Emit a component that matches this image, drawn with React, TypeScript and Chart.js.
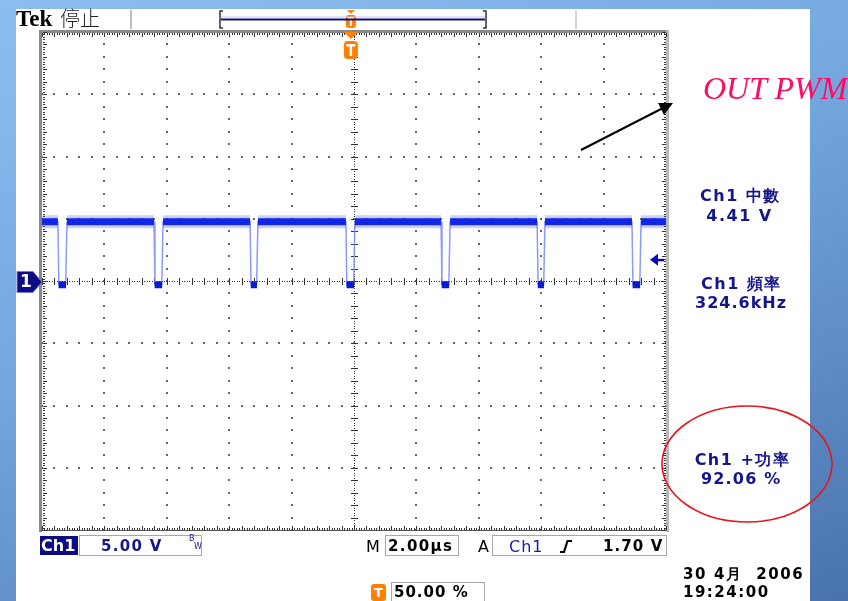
import React, { useEffect, useRef } from "react";
import { Chart, registerables } from "chart.js";
Chart.register(...registerables);

// ---- data (µs, V) ----
const timeDivs = [-10, -8, -6, -4, -2, 0, 2, 4, 6, 8, 10]; // 2.00 µs/div
const voltDivs = [-20, -15, -10, -5, 0, 5, 10, 15, 20]; // 5.00 V/div
const fallTimes = [-9.49, -6.41, -3.33, -0.26, 2.79, 5.87, 8.91];
const riseTimes = [-9.2, -6.12, -3.08, 0.03, 3.08, 6.12, 9.2];
const highLevel = 4.75;
const lowLevel = -0.3;
const triggerLevel = 1.7;
const triggerTime = -0.1;

const FONT = '"DejaVu Sans", Verdana, sans-serif';
const NAVY = "#16168c";
const ORANGE = "#ff7f00";

type P = { x: number; y: number | null };

function buildEdges(): P[] {
  const pts: P[] = [{ x: timeDivs[0], y: highLevel }];
  fallTimes.forEach((f, i) => {
    const r = riseTimes[i];
    pts.push({ x: f, y: highLevel }, { x: f + 0.03, y: lowLevel }, { x: r - 0.04, y: lowLevel }, { x: r, y: highLevel });
  });
  pts.push({ x: timeDivs[timeDivs.length - 1], y: highLevel });
  return pts;
}
function buildHigh(): P[] {
  const pts: P[] = [];
  let start = timeDivs[0];
  fallTimes.forEach((f, i) => {
    pts.push({ x: start, y: highLevel }, { x: f, y: highLevel }, { x: f + 0.01, y: null });
    start = riseTimes[i];
  });
  pts.push({ x: start, y: highLevel }, { x: timeDivs[timeDivs.length - 1], y: highLevel });
  return pts;
}
function buildLow(): P[] {
  const pts: P[] = [];
  fallTimes.forEach((f, i) => {
    const r = riseTimes[i];
    pts.push({ x: f + 0.02, y: lowLevel }, { x: r - 0.03, y: lowLevel }, { x: r, y: null });
  });
  return pts;
}

function roundRect(ctx: CanvasRenderingContext2D, x: number, y: number, w: number, h: number, r: number) {
  ctx.beginPath();
  ctx.moveTo(x + r, y);
  ctx.lineTo(x + w - r, y);
  ctx.quadraticCurveTo(x + w, y, x + w, y + r);
  ctx.lineTo(x + w, y + h - r);
  ctx.quadraticCurveTo(x + w, y + h, x + w - r, y + h);
  ctx.lineTo(x + r, y + h);
  ctx.quadraticCurveTo(x, y + h, x, y + h - r);
  ctx.lineTo(x, y + r);
  ctx.quadraticCurveTo(x, y, x + r, y);
  ctx.closePath();
}

const scopePlugin = {
  id: "scope",
  beforeDatasetsDraw(chart: any) {
    const { ctx, chartArea: a, scales } = chart;
    const xs = scales.x, ys = scales.y;
    const xStep = (timeDivs[1] - timeDivs[0]) / 5;
    const yStep = (voltDivs[1] - voltDivs[0]) / 5;
    const x0 = timeDivs[0], x1 = timeDivs[timeDivs.length - 1];
    const y0 = voltDivs[0], y1 = voltDivs[voltDivs.length - 1];
    ctx.save();
    // grid dots
    ctx.fillStyle = "#666";
    timeDivs.slice(1, -1).forEach((tv) => {
      if (tv === 0) return;
      const px = Math.round(xs.getPixelForValue(tv));
      for (let v = y0; v <= y1 + 1e-6; v += yStep) {
        const py = Math.round(ys.getPixelForValue(v));
        ctx.fillRect(px - 1, py - 1, 2, 2);
      }
    });
    voltDivs.slice(1, -1).forEach((vv) => {
      if (vv === 0) return;
      const py = Math.round(ys.getPixelForValue(vv));
      for (let t = x0; t <= x1 + 1e-6; t += xStep) {
        const px = Math.round(xs.getPixelForValue(t));
        ctx.fillRect(px - 1, py - 1, 2, 2);
      }
    });
    // center lines
    const cx = Math.round(xs.getPixelForValue(0));
    const cy = Math.round(ys.getPixelForValue(0));
    ctx.fillStyle = "#333";
    for (let t = x0; t <= x1 + 1e-6; t += xStep / 5) {
      const px = Math.round(xs.getPixelForValue(t));
      ctx.fillRect(px, cy, 1, 1);
    }
    for (let v = y0; v <= y1 + 1e-6; v += yStep / 5) {
      const py = Math.round(ys.getPixelForValue(v));
      ctx.fillRect(cx, py, 1, 1);
    }
    for (let t = x0; t <= x1 + 1e-6; t += xStep) {
      const px = Math.round(xs.getPixelForValue(t));
      ctx.fillRect(px, cy - 3, 1, 7);
    }
    for (let v = y0; v <= y1 + 1e-6; v += yStep) {
      const py = Math.round(ys.getPixelForValue(v));
      ctx.fillRect(cx - 3, py, 7, 1);
    }
    // border frame
    const L = Math.round(a.left), R = Math.round(a.right), T = Math.round(a.top), B = Math.round(a.bottom);
    ctx.fillStyle = "#8a8a8a";
    ctx.fillRect(L - 3, T - 2, R - L + 5, 3);
    ctx.fillRect(L - 3, T - 2, 3, B - T + 4);
    ctx.fillStyle = "#b8b8b8";
    ctx.fillRect(R, T - 2, 3, B - T + 4);
    ctx.fillStyle = "#555";
    ctx.fillRect(L - 1, B, R - L + 2, 1);
    // ruler ticks
    ctx.fillStyle = "#333";
    for (let t = x0; t <= x1 + 1e-6; t += xStep / 5) {
      const px = Math.round(xs.getPixelForValue(t));
      ctx.fillRect(px, T + 1, 1, 2);
      ctx.fillRect(px, B - 2, 1, 2);
    }
    for (let t = x0; t <= x1 + 1e-6; t += xStep) {
      const px = Math.round(xs.getPixelForValue(t));
      ctx.fillRect(px, T + 1, 1, 4);
      ctx.fillRect(px, B - 4, 1, 4);
    }
    for (let v = y0; v <= y1 + 1e-6; v += yStep / 5) {
      const py = Math.round(ys.getPixelForValue(v));
      ctx.fillRect(L + 1, py, 2, 1);
      ctx.fillRect(R - 2, py, 2, 1);
    }
    for (let v = y0; v <= y1 + 1e-6; v += yStep) {
      const py = Math.round(ys.getPixelForValue(v));
      ctx.fillRect(L + 1, py, 4, 1);
      ctx.fillRect(R - 4, py, 4, 1);
    }
    ctx.restore();
  },
  afterDraw(chart: any) {
    const { ctx, chartArea: a, scales } = chart;
    const xs = scales.x, ys = scales.y;
    ctx.save();
    // ground marker "1"
    const gy = ys.getPixelForValue(0) + 1;
    ctx.beginPath();
    ctx.moveTo(17, gy - 10.5);
    ctx.lineTo(33, gy - 10.5);
    ctx.lineTo(a.left, gy);
    ctx.lineTo(33, gy + 10.5);
    ctx.lineTo(17, gy + 10.5);
    ctx.closePath();
    ctx.fillStyle = "#0c0c86";
    ctx.fill();
    ctx.strokeStyle = "#7a7ad8";
    ctx.lineWidth = 1;
    ctx.stroke();
    ctx.fillStyle = "#fff";
    ctx.font = "bold 17px " + FONT;
    ctx.textAlign = "center";
    ctx.textBaseline = "middle";
    ctx.fillText("1", 26, gy + 1);
    // trigger level arrow
    const ty = ys.getPixelForValue(triggerLevel);
    ctx.fillStyle = "#0a0ab4";
    ctx.beginPath();
    ctx.moveTo(650, ty);
    ctx.lineTo(658, ty - 6);
    ctx.lineTo(658, ty + 6);
    ctx.closePath();
    ctx.fill();
    ctx.fillRect(657, ty - 1, 7, 2.5);
    // trigger position markers
    const tx = xs.getPixelForValue(triggerTime);
    ctx.fillStyle = ORANGE;
    ctx.beginPath();
    ctx.moveTo(tx - 7, a.top);
    ctx.lineTo(tx + 7, a.top);
    ctx.lineTo(tx, a.top + 7);
    ctx.closePath();
    ctx.fill();
    roundRect(ctx, tx - 7, a.top + 9, 14, 18, 4);
    ctx.fill();
    ctx.fillStyle = "#fff";
    ctx.fillRect(tx - 4.5, a.top + 12, 9, 2.5);
    ctx.fillRect(tx - 1.25, a.top + 12, 2.5, 12);
    // record view marker
    ctx.fillStyle = ORANGE;
    ctx.beginPath();
    ctx.moveTo(tx - 4, 10);
    ctx.lineTo(tx + 4, 10);
    ctx.lineTo(tx, 14);
    ctx.closePath();
    ctx.fill();
    roundRect(ctx, tx - 5, 15, 10, 13, 3);
    ctx.fill();
    ctx.fillStyle = "#fff";
    ctx.fillRect(tx - 3, 17, 6, 2);
    ctx.fillRect(tx - 1, 17, 2, 9);
    ctx.restore();
  },
};

function Label(props: {
  left: number; top: number; text: string; size?: number; color?: string; ls?: number;
  weight?: any; family?: string; center?: boolean; italic?: boolean;
}) {
  const { left, top, text, size = 16, color = NAVY, ls = 0, weight = "bold", family = FONT, center, italic } = props;
  const style: any = {
    position: "absolute", top, fontSize: size, lineHeight: size + "px", color, letterSpacing: ls,
    fontWeight: weight, fontFamily: family, whiteSpace: "pre", fontStyle: italic ? "italic" : "normal",
  };
  if (center) {
    style.left = left - 100; style.width = 200; style.textAlign = "center"; style.paddingLeft = ls;
  } else style.left = left;
  return <div style={style}>{text}</div>;
}

export default function App() {
  const ref = useRef<HTMLCanvasElement>(null);
  useEffect(() => {
    const chart = new Chart(ref.current!, {
      type: "line",
      data: {
        datasets: [
          { data: buildLow() as any, borderColor: "#0a1cd0", borderWidth: 7, borderCapStyle: "butt", pointRadius: 0, spanGaps: false, order: 1 },
          { data: buildHigh() as any, borderColor: "#1226e6", borderWidth: 7, borderCapStyle: "butt", pointRadius: 0, spanGaps: false, order: 2 },
          { data: buildHigh() as any, borderColor: "rgba(80,100,255,0.3)", borderWidth: 13, borderCapStyle: "butt", pointRadius: 0, spanGaps: false, order: 3 },
          { data: buildEdges() as any, borderColor: "rgba(120,135,255,0.85)", borderWidth: 1.5, pointRadius: 0, order: 4 },
        ],
      },
      options: {
        animation: false,
        responsive: false,
        devicePixelRatio: 1,
        layout: { padding: { left: 42, right: 182, top: 32, bottom: 71 } },
        plugins: { legend: { display: false }, tooltip: { enabled: false } },
        events: [],
        scales: {
          x: { type: "linear", min: timeDivs[0], max: timeDivs[timeDivs.length - 1], display: false },
          y: { type: "linear", min: voltDivs[0], max: voltDivs[voltDivs.length - 1], display: false },
        },
      },
      plugins: [scopePlugin as any],
    });
    return () => chart.destroy();
  }, []);

  const boxStyle = (l: number, w: number): any => ({
    position: "absolute", left: l, top: 535, width: w, height: 21, border: "1px solid #a8a8a8", boxSizing: "border-box",
  });

  return (
    <div style={{ position: "fixed", left: 0, top: 0, width: 848, height: 601, overflow: "hidden",
      background: "linear-gradient(160deg, #8cbff0 0%, #72a5dc 45%, #4a73ae 100%)" }}>
      <div style={{ position: "absolute", left: 16, top: 9, width: 794, height: 592, background: "#fff" }} />
      <canvas ref={ref} width={848} height={601} style={{ position: "absolute", left: 0, top: 0, width: 848, height: 601 }} />

      <svg width={848} height={601} style={{ position: "absolute", left: 0, top: 0, pointerEvents: "none" }}>
        <line x1={131} y1={10} x2={131} y2={29} stroke="#aaa" strokeWidth={1.5} />
        <line x1={576} y1={10} x2={576} y2={29} stroke="#c8c8c8" strokeWidth={1.5} />
        <path d="M223,11 L220,11 L220,28 L223,28" fill="none" stroke="#333" strokeWidth={1.5} />
        <path d="M483,11 L486,11 L486,28 L483,28" fill="none" stroke="#333" strokeWidth={1.5} />
        <line x1={221} y1={17} x2={485} y2={17} stroke="#c8c8ee" strokeWidth={1} />
        <line x1={221} y1={19.5} x2={485} y2={19.5} stroke="#10107a" strokeWidth={2} />
        <line x1={581} y1={150} x2={663} y2={108} stroke="#000" strokeWidth={2} />
        <polygon points="658,103 673,103 664,115" fill="#000" />
        <ellipse cx={747} cy={464} rx={85} ry={58} fill="none" stroke="#e8141c" strokeWidth={1.6} />
        <path d="M560,552 L564,552 L567.5,541 L572,541" fill="none" stroke="#000" strokeWidth={2.2} />
        <rect x={391.5} y={582.5} width={93} height={20} fill="none" stroke="#a8a8a8" strokeWidth={1} />
      </svg>

      <Label left={16} top={7} text="Tek" size={23} color="#000" family='"Liberation Serif", serif' />
      <Label left={60} top={8} text="停止" size={20} color="#222" weight={300} family='"Noto Sans CJK TC", sans-serif' />

      <Label left={703} top={72} text="OUT PWM" size={32} color="#ff0a64" weight="normal" italic family='"Liberation Serif", serif' />

      <Label left={739} top={188} text="Ch1 中數" size={16} ls={1.5} center />
      <Label left={738} top={207.5} text="4.41 V" size={16} ls={1.5} center />
      <Label left={740} top={275.5} text="Ch1 頻率" size={16} ls={1.5} center />
      <Label left={740} top={294.5} text="324.6kHz" size={16} ls={1} center />
      <Label left={741} top={451.5} text="Ch1 +功率" size={16} ls={1.5} center />
      <Label left={740} top={470.5} text="92.06 %" size={16} ls={1.2} center />

      <div style={{ position: "absolute", left: 40, top: 536, width: 38, height: 19, background: "#0c0c86" }} />
      <Label left={41} top={538} text="Ch1" size={16} color="#fff" ls={0} />
      <div style={boxStyle(79, 123)} />
      <Label left={101} top={539} text="5.00 V" size={15} ls={1.3} />
      <Label left={189} top={535} text="B" size={8} weight="normal" />
      <Label left={194} top={543} text="W" size={8} weight="normal" />
      <Label left={366} top={539} text="M" size={16} color="#000" weight="normal" />
      <div style={boxStyle(385, 74)} />
      <Label left={388} top={539} text="2.00µs" size={15} color="#000" ls={1.4} />
      <Label left={478} top={539} text="A" size={16} color="#000" weight="normal" />
      <div style={boxStyle(492, 175)} />
      <Label left={509} top={539} text="Ch1" size={16} ls={1} color="#1a1aa8" weight="normal" />
      <Label left={603} top={539} text="1.70 V" size={15} color="#000" ls={1.1} />

      <div style={{ position: "absolute", left: 371, top: 584, width: 15, height: 17, background: ORANGE, borderRadius: 3,
        color: "#fff", fontFamily: FONT, fontWeight: "bold", fontSize: 13, lineHeight: "17px", textAlign: "center" }}>T</div>
      <Label left={394} top={585} text="50.00 %" size={15} color="#000" ls={1} />

      <Label left={683} top={567} text="30 4月  2006" size={15} color="#000" ls={1.6} />
      <Label left={683} top={585} text="19:24:00" size={15} color="#000" ls={1.5} />
    </div>
  );
}
